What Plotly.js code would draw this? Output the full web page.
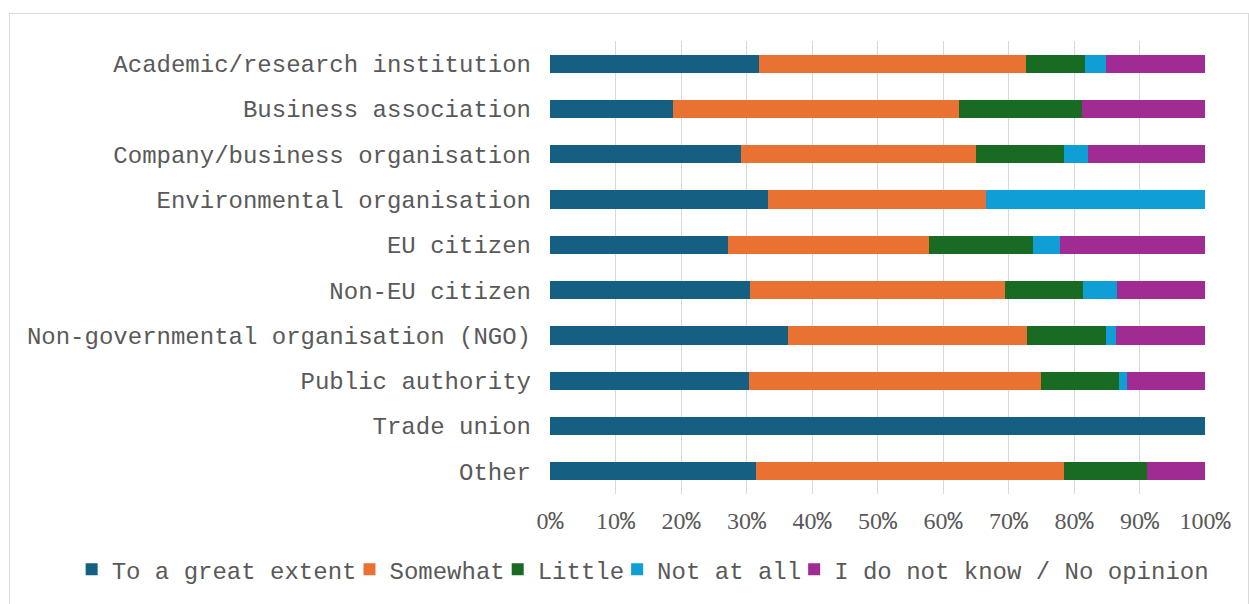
<!DOCTYPE html>
<html><head><meta charset="utf-8">
<script src="https://cdn.plot.ly/plotly-3.0.1.min.js"></script>
<style>
html,body{margin:0;padding:0;background:#fff;}
#wrap{position:relative;width:1249px;height:604px;}
#chart{position:absolute;left:0;top:0;width:1249px;height:604px;}
#frame{position:absolute;left:9px;top:13px;width:1238px;height:600px;border:1px solid #d9d9d9;pointer-events:none;}
</style></head>
<body>
<div id="wrap"><div id="chart"></div><div id="frame"></div></div>
<script>
const categories = ["Academic/research institution","Business association","Company/business organisation","Environmental organisation","EU citizen","Non-EU citizen","Non-governmental organisation (NGO)","Public authority","Trade union","Other"];
const seriesNames = ["To a great extent","Somewhat","Little","Not at all","I do not know / No opinion"];
const greatExtent = [31.9,18.75,29.2,33.3,27.1,30.5,36.4,30.4,100,31.5];
const somewhat    = [40.8,43.75,35.8,33.3,30.8,39.0,36.4,44.6,0,47.0];
const little      = [9.0,18.75,13.5,0,15.8,11.9,12.1,11.9,0,12.6];
const notAtAll    = [3.2,0,3.6,33.4,4.1,5.1,1.5,1.2,0,0];
const noOpinion   = [15.1,18.75,17.9,0,22.2,13.5,13.6,11.9,0,8.9];
const tickValues = [0,10,20,30,40,50,60,70,80,90,100];
const tickLabels = ["0","10","20","30","40","50","60","70","80","90","100"];
const colors = ["#156082","#E97132","#196B24","#0F9ED5","#A02B93"];
const values = [greatExtent,somewhat,little,notAtAll,noOpinion];

const mono = "Liberation Mono, Courier New, monospace";
const serif = "Liberation Serif, Times New Roman, serif";

const traces = values.map((v,i)=>({
  type:"bar", orientation:"h", name:seriesNames[i],
  x:v, y:categories,
  marker:{color:colors[i], line:{width:0}},
  hoverinfo:"x+y+name"
}));

const layout = {
  width:1249, height:604,
  margin:{l:550,r:44,t:41,b:108},
  barmode:"stack", bargap:0.6,
  paper_bgcolor:"#fff", plot_bgcolor:"#fff",
  showlegend:true,
  legend:{orientation:"h", traceorder:"normal", x:-0.712, xref:"paper", xanchor:"left", y:-0.167, yref:"paper", yanchor:"middle",
    font:{family:mono, size:24, color:"#595959"},
    itemwidth:30, indentation:-12, tracegroupgap:0},
  xaxis:{range:[0,100], tickmode:"array", tickvals:tickValues,
    ticktext:tickLabels.map(t=>t+"<span style=\"font-family:'Liberation Mono';font-size:25px\">%</span>"),
    showgrid:true, gridcolor:"#d9d9d9", gridwidth:1,
    zeroline:false, showline:false, ticks:"", ticklabelstandoff:10,
    tickfont:{family:serif, size:24, color:"#595959"}},
  yaxis:{autorange:"reversed", showgrid:false, zeroline:false, showline:false, ticks:"", ticklabelstandoff:18,
    tickfont:{family:mono, size:24, color:"#595959"}}
};
Plotly.newPlot("chart", traces, layout, {displayModeBar:false, staticPlot:true});
</script>
</body></html>
